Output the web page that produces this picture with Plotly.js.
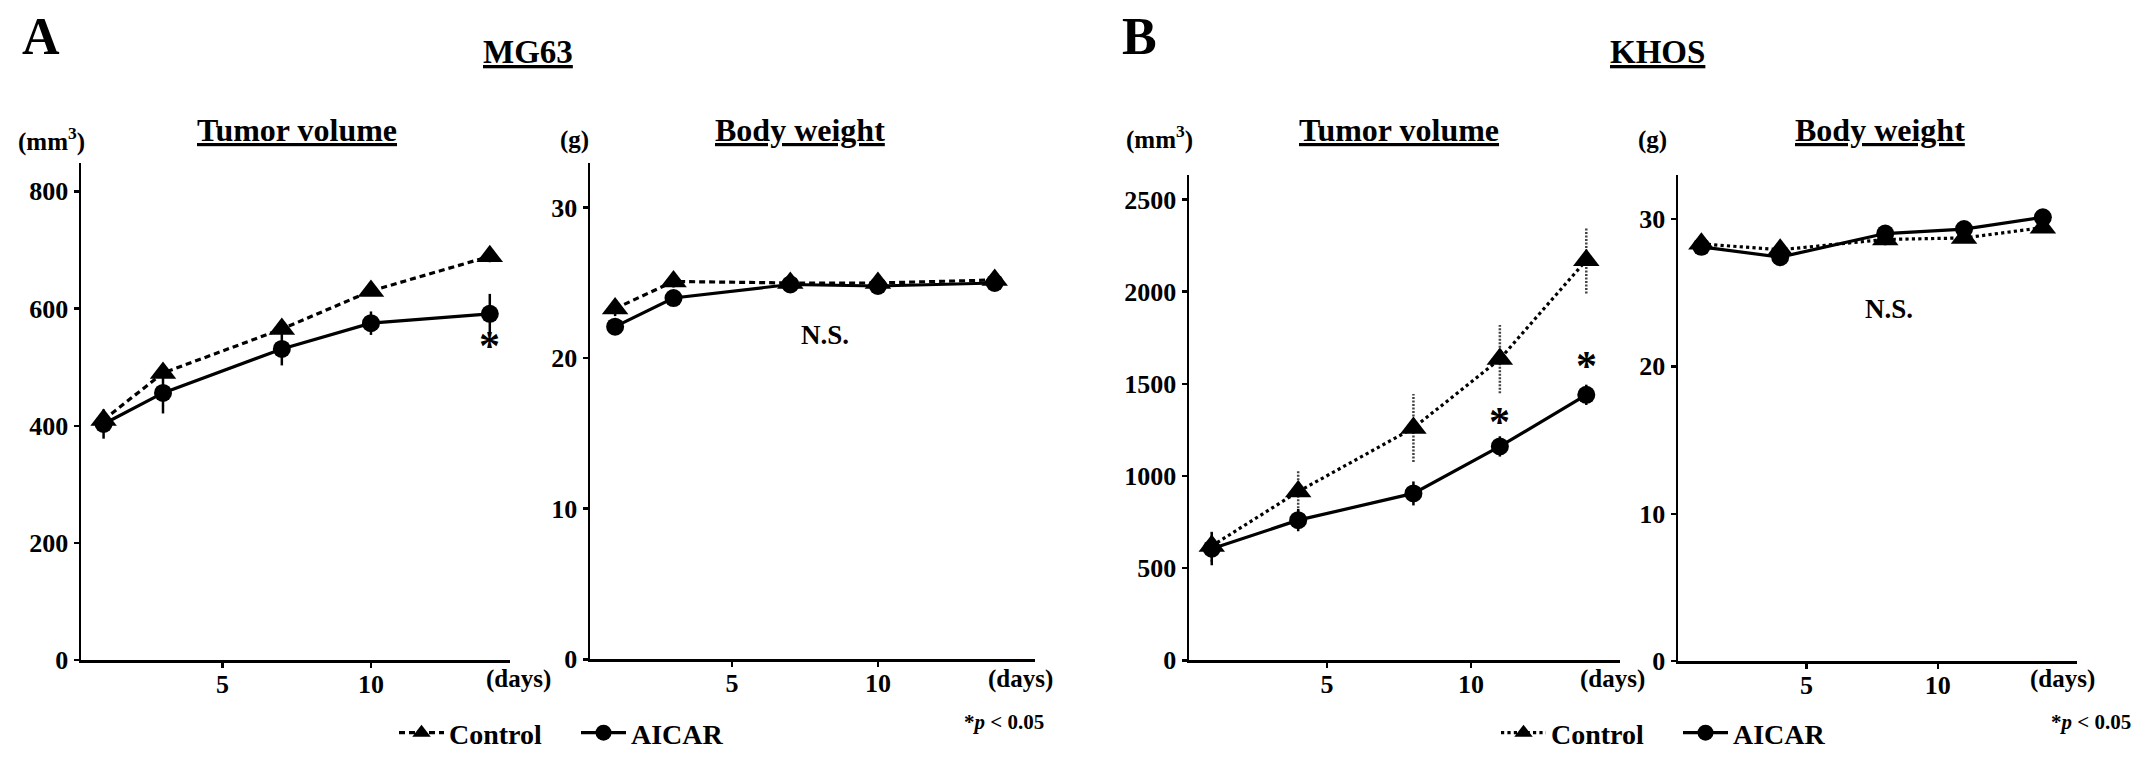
<!DOCTYPE html>
<html>
<head>
<meta charset="utf-8">
<script src="https://cdn.plot.ly/plotly-3.0.1.min.js"></script>
<style>html,body{margin:0;padding:0;background:#fff;}#chart{width:2150px;height:758px;}</style>
</head>
<body>
<div id="chart"></div>
<script>
// ---------- data ----------
const daysA = [1, 3, 7, 10, 14];
const daysB = [1, 4, 8, 11, 14];

const mg63TumorControl = [410, 490, 565, 630, 689];
const mg63TumorControlErr = [15, 8, 8, 8, 10];
const mg63TumorAicar = [403, 456, 531, 575, 591];
const mg63TumorAicarErr = [25, 35, 28, 20, 34];

const mg63WeightControl = [23.3, 25.1, 25.0, 25.0, 25.2];
const mg63WeightControlErr = [0.5, 0.4, 0.4, 0.4, 0.4];
const mg63WeightAicar = [22.1, 24.0, 24.9, 24.8, 25.0];
const mg63WeightAicarErr = [0.4, 0.4, 0.4, 0.4, 0.4];

const khosTumorControl = [620, 915, 1260, 1634, 2170];
const khosTumorControlErr = [85, 110, 185, 185, 180];
const khosTumorAicar = [605, 760, 905, 1160, 1440];
const khosTumorAicarErr = [90, 60, 65, 55, 55];

const khosWeightControl = [28.3, 27.9, 28.6, 28.7, 29.4];
const khosWeightControlErr = [0.3, 0.3, 0.4, 0.3, 0.3];
const khosWeightAicar = [28.1, 27.4, 29.0, 29.3, 30.1];
const khosWeightAicarErr = [0.3, 0.3, 0.5, 0.4, 0.3];

const xTicks = [5, 10];
const tumorTicksA = [0, 200, 400, 600, 800];
const weightTicks = [0, 10, 20, 30];
const tumorTicksB = [0, 500, 1000, 1500, 2000, 2500];

// significance asterisks: [day, value]
const sigA = [[14, 536]];
const sigB = [[11, 1293], [14, 1596]];

// ---------- styling ----------
const FONT = 'Liberation Serif, Times New Roman, serif';
const f = (size) => ({family: FONT, size: size, color: '#000', weight: 'bold'});

function errBars(arr) {
  return {type: 'data', array: arr, visible: true, color: '#000', thickness: 2.5, width: 0};
}

function lineTrace(name, x, y, err, xa, ya, isControl, dash, legend, showlegend, errVisible) {
  return {
    type: 'scatter', mode: 'lines+markers', name: name, x: x, y: y,
    xaxis: xa, yaxis: ya, legend: legend, showlegend: showlegend,
    line: {color: '#000', width: 3.2, dash: isControl ? dash : 'solid'},
    marker: {symbol: isControl ? 'triangle-up' : 'circle', size: isControl ? 23 : 18, color: '#000'},
    error_y: errVisible ? errBars(err) : {visible: false},
    cliponaxis: false
  };
}

// dotted error bars built from data (control, KHOS tumour)
function dottedErr(x, y, err, xa, ya) {
  const xs = [], ys = [];
  for (let i = 0; i < x.length; i++) {
    xs.push(x[i], x[i], null);
    ys.push(y[i] - err[i], y[i] + err[i], null);
  }
  return {type: 'scatter', mode: 'lines', x: xs, y: ys, xaxis: xa, yaxis: ya,
    showlegend: false, hoverinfo: 'skip',
    line: {color: '#444', width: 2.5, dash: '2px,1.5px'}};
}

const traces = [
  lineTrace('Control', daysA, mg63TumorControl, mg63TumorControlErr, 'x', 'y', true, '6px,4px', 'legend', true, true),
  lineTrace('AICAR', daysA, mg63TumorAicar, mg63TumorAicarErr, 'x', 'y', false, null, 'legend', true, true),
  lineTrace('Control', daysA, mg63WeightControl, mg63WeightControlErr, 'x2', 'y2', true, '6px,4px', 'legend', false, true),
  lineTrace('AICAR', daysA, mg63WeightAicar, mg63WeightAicarErr, 'x2', 'y2', false, null, 'legend', false, true),
  dottedErr(daysB, khosTumorControl, khosTumorControlErr, 'x3', 'y3'),
  lineTrace('Control', daysB, khosTumorControl, khosTumorControlErr, 'x3', 'y3', true, 'dot', 'legend2', true, false),
  lineTrace('AICAR', daysB, khosTumorAicar, khosTumorAicarErr, 'x3', 'y3', false, null, 'legend2', true, true),
  lineTrace('Control', daysB, khosWeightControl, khosWeightControlErr, 'x4', 'y4', true, 'dot', 'legend2', false, true),
  lineTrace('AICAR', daysB, khosWeightAicar, khosWeightAicarErr, 'x4', 'y4', false, null, 'legend2', false, true)
];

const W = 2150, H = 758;
const px = (v) => v / W;
const py = (v) => (H - v) / H;

function xAxis(l, r, range, anchor) {
  return {domain: [px(l), px(r)], range: range, anchor: anchor, tickvals: xTicks,
    ticks: 'outside', ticklen: 5, tickwidth: 2.5, tickcolor: '#000', ticklabelstandoff: -6,
    showline: true, linewidth: 2.5, linecolor: '#000', showgrid: false, zeroline: false,
    tickfont: f(26), fixedrange: true};
}
function yAxis(b, t, range, ticks, anchor) {
  return {domain: [py(b), py(t)], range: range, anchor: anchor, tickvals: ticks,
    ticks: 'outside', ticklen: 5, tickwidth: 2.5, tickcolor: '#000',
    showline: true, linewidth: 2.5, linecolor: '#000', showgrid: false, zeroline: false,
    tickfont: f(26), fixedrange: true};
}

function ann(text, x, y, size, extra) {
  return Object.assign({text: text, x: px(x), y: py(y), xref: 'paper', yref: 'paper',
    showarrow: false, font: f(size), xanchor: 'center', yanchor: 'middle'}, extra || {});
}

const annotations = [
  ann('A', 41, 37, 52),
  ann('B', 1139, 37, 52),
  ann('<u>MG63</u>', 528, 52, 33),
  ann('<u>KHOS</u>', 1657, 52, 33),
  ann('<u>Tumor volume</u>', 297, 130, 32),
  ann('<u>Body weight</u>', 800, 130, 32),
  ann('<u>Tumor volume</u>', 1399, 130, 32),
  ann('<u>Body weight</u>', 1880, 130, 32),
  ann('(mm<sup>3</sup>)', 51, 140, 25),
  ann('(g)', 574, 140, 25),
  ann('(mm<sup>3</sup>)', 1159, 138, 25),
  ann('(g)', 1652, 140, 25),
  ann('(days)', 518, 681, 25),
  ann('(days)', 1020, 681, 25),
  ann('(days)', 1612, 681, 25),
  ann('(days)', 2062, 681, 25),
  ann('N.S.', 825, 336, 27),
  ann('N.S.', 1889, 310, 27),
  ann('*<i>p</i> &lt; 0.05', 1046, 724, 21, {xanchor: 'right'}),
  ann('*<i>p</i> &lt; 0.05', 2133, 724, 21, {xanchor: 'right'})
];
sigA.forEach(s => annotations.push({text: '*', x: s[0], y: s[1], xref: 'x', yref: 'y',
  showarrow: false, font: f(42), xanchor: 'center', yanchor: 'middle'}));
sigB.forEach(s => annotations.push({text: '*', x: s[0], y: s[1], xref: 'x3', yref: 'y3',
  showarrow: false, font: f(42), xanchor: 'center', yanchor: 'middle'}));

const layout = {
  width: W, height: H,
  margin: {l: 0, r: 0, t: 0, b: 0},
  paper_bgcolor: '#fff', plot_bgcolor: '#fff',
  showlegend: true,
  font: f(24),
  xaxis: xAxis(81, 510, [0.24, 14.68], 'y'),
  yaxis: yAxis(662, 163, [0, 849], tumorTicksA, 'x'),
  xaxis2: xAxis(590, 1035, [0.14, 15.38], 'y2'),
  yaxis2: yAxis(661, 163, [0, 33], weightTicks, 'x2'),
  xaxis3: xAxis(1189, 1620, [0.21, 15.17], 'y3'),
  yaxis3: yAxis(662, 175, [0, 2635], tumorTicksB, 'x3'),
  xaxis4: xAxis(1678, 2077, [0.11, 15.3], 'y4'),
  yaxis4: yAxis(663, 175, [0, 33], weightTicks, 'x4'),
  legend: {orientation: 'h', x: px(394), y: py(735), xanchor: 'left', yanchor: 'middle',
    font: f(28), bgcolor: 'rgba(0,0,0,0)', itemwidth: 45, entrywidth: 122, entrywidthmode: 'pixels',
    traceorder: 'normal'},
  legend2: {orientation: 'h', x: px(1496), y: py(735), xanchor: 'left', yanchor: 'middle',
    font: f(28), bgcolor: 'rgba(0,0,0,0)', itemwidth: 45, entrywidth: 122, entrywidthmode: 'pixels',
    traceorder: 'normal'},
  annotations: annotations
};

Plotly.newPlot('chart', traces, layout, {displayModeBar: false, staticPlot: true});
</script>
</body>
</html>
